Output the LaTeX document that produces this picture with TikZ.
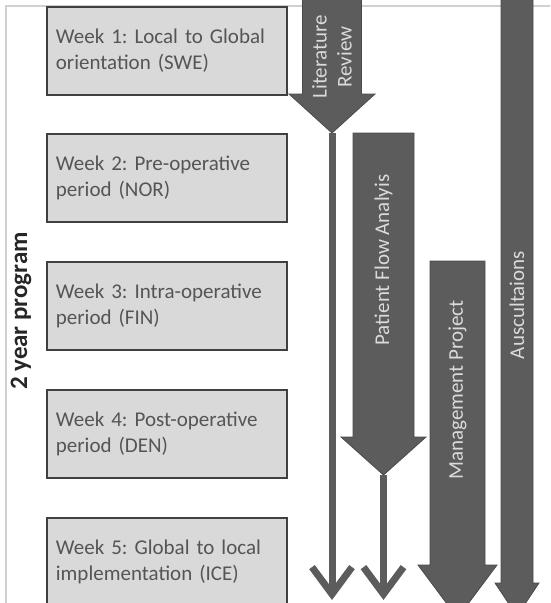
\documentclass[tikz,border=0pt]{standalone}
\usepackage{fontspec}
\setmainfont{Carlito}
\usetikzlibrary{arrows.meta}

\definecolor{boxgray}{HTML}{D9D9D9}
\definecolor{boxedge}{HTML}{404040}
\definecolor{weektext}{HTML}{555555}
\definecolor{arrowgray}{HTML}{5C5C5C}
\definecolor{arrowedge}{HTML}{4A4A4A}
\definecolor{arrowtext}{HTML}{DADADA}
\definecolor{framegray}{HTML}{D0D0D0}

\tikzset{
  weekbox/.style={draw=boxedge, line width=1.8pt, fill=boxgray, text=weektext,
    anchor=north west, minimum width=240pt, minimum height=88pt,
    text width=222pt, inner xsep=9pt, align=left,
    font=\fontsize{21}{26}\selectfont},
  blockarrow/.style={fill=arrowgray, draw=arrowedge, line width=0.8pt},
  arrowlabel/.style={text=arrowtext, rotate=90, align=center,
    font=\fontsize{21}{25}\selectfont},
  thinarrow/.style={draw=arrowgray, line width=7pt,
    -{Straight Barb[length=27pt,width=40pt]}},
}

\begin{document}
\frenchspacing
\begin{tikzpicture}[x=1pt,y=-1pt]
      \useasboundingbox (0,0) rectangle (550,603);
      \clip (0,0) rectangle (550,603);
      \draw[framegray, line width=1.2pt] (6,610) -- (6,6) -- (556,6);
      % weeks
      \node[weekbox] (week1) at (46,6) {Week 1: Local to Global\\orientation (SWE)};
      \node[weekbox] (week2) at (46,133) {Week 2: Pre-operative\\period (NOR)};
      \node[weekbox] (week3) at (46,261) {Week 3: Intra-operative\\period (FIN)};
      \node[weekbox] (week4) at (46,389) {Week 4: Post-operative\\period (DEN)};
      \node[weekbox] (week5) at (46,517) {Week 5: Global to local\\implementation (ICE)};
      \node[rotate=90, text=black!85, font=\fontsize{25}{30}\selectfont\bfseries] (program) at (21,311) {2 year program};
      % literature review
      \draw[blockarrow] (302.5,-5) -- (361.5,-5) -- (361.5,94) -- (375,94) -- (332,133) -- (289,94) -- (302.5,94) -- cycle;
      \coordinate (littip) at (332,133);
      \coordinate (litend) at (332,600);
      \node[arrowlabel] (litlabel) at (332,57) {Literature\\Review};
      \draw[thinarrow] (littip) -- (litend);
      % patient flow
      \draw[blockarrow] (353,133) -- (414,133) -- (414,437) -- (426,437) -- (383.5,475) -- (341,437) -- (353,437) -- cycle;
      \coordinate (flowtip) at (383.5,475);
      \coordinate (flowend) at (383.5,600);
      \node[arrowlabel] (flowlabel) at (383.5,260) {Patient Flow Analyis};
      \draw[thinarrow] (flowtip) -- (flowend);
      % management project
      \draw[blockarrow] (430,261) -- (485,261) -- (485,565) -- (497,565) -- (457.5,618) -- (418,565) -- (430,565) -- cycle;
      \node[arrowlabel] (projlabel) at (457.5,390) {Management Project};
      % auscultaions
      \draw[blockarrow] (501,-5) -- (533,-5) -- (533,583) -- (539,583) -- (517,616) -- (495,583) -- (501,583) -- cycle;
      \node[arrowlabel] (auslabel) at (517,305) {Auscultaions};
\end{tikzpicture}
\end{document}
